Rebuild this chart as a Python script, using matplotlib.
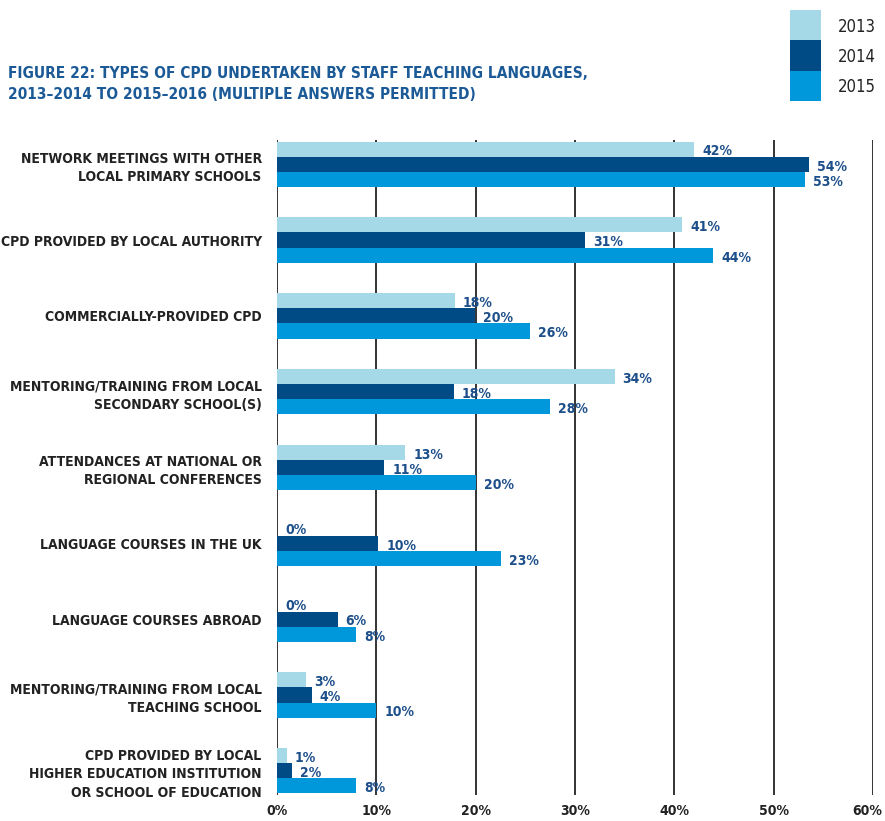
import matplotlib
matplotlib.use("Agg")
import matplotlib.pyplot as plt
from matplotlib.transforms import ScaledTranslation
import numpy as np

categories = [
    "NETWORK MEETINGS WITH OTHER\nLOCAL PRIMARY SCHOOLS",
    "CPD PROVIDED BY LOCAL AUTHORITY",
    "COMMERCIALLY-PROVIDED CPD",
    "MENTORING/TRAINING FROM LOCAL\nSECONDARY SCHOOL(S)",
    "ATTENDANCES AT NATIONAL OR\nREGIONAL CONFERENCES",
    "LANGUAGE COURSES IN THE UK",
    "LANGUAGE COURSES ABROAD",
    "MENTORING/TRAINING FROM LOCAL\nTEACHING SCHOOL",
    "CPD PROVIDED BY LOCAL\nHIGHER EDUCATION INSTITUTION\nOR SCHOOL OF EDUCATION",
]
years = ["2013", "2014", "2015"]
v2013 = [42, 40.8, 17.9, 34, 12.9, 0, 0, 2.9, 1.0]
v2014 = [53.6, 31, 19.9, 17.8, 10.8, 10.2, 6.1, 3.5, 1.5]
v2015 = [53.2, 43.9, 25.5, 27.5, 20, 22.6, 8, 10, 8]
labels2013 = ["42%", "41%", "18%", "34%", "13%", "0%", "0%", "3%", "1%"]
labels2014 = ["54%", "31%", "20%", "18%", "11%", "10%", "6%", "4%", "2%"]
labels2015 = ["53%", "44%", "26%", "28%", "20%", "23%", "8%", "10%", "8%"]
xticks = [0, 10, 20, 30, 40, 50, 60]
xticklabels = ["0%", "10%", "20%", "30%", "40%", "50%", "60%"]
title = "FIGURE 22: TYPES OF CPD UNDERTAKEN BY STAFF TEACHING LANGUAGES,\n2013\u20132014 TO 2015\u20132016 (MULTIPLE ANSWERS PERMITTED)"

colors = ["#A6D9E7", "#004A85", "#0097DB"]
label_color = "#1D4F8A"
fam = "DejaVu Sans"
st = "condensed"

fig = plt.figure(figsize=(8.85, 8.21), dpi=100)
ax = fig.add_axes([277/885, 1-795/821, (873-277)/885, (795-140)/821])

y = np.arange(len(categories))
h = 0.2
series = [v2013, v2014, v2015]
labs = [labels2013, labels2014, labels2015]
for k, (vals, ls) in enumerate(zip(series, labs)):
    ypos = y + (k - 1) * h
    ax.barh(ypos, vals, height=h, color=colors[k], zorder=3, linewidth=0)
    for yy, v, t in zip(ypos, vals, ls):
        ax.text(v + 0.8, yy + 0.03, t, ha="left", va="center", color=label_color,
                fontsize=10, fontweight="bold", family=fam, stretch=st, zorder=4)

ax.set_xlim(0, 60)
ax.set_ylim(len(categories) - 1 + 0.32, -0.32)
ax.set_xticks(xticks)
ax.set_xticklabels(xticklabels[:-1] + [""])
xtick_style = dict(fontweight="bold", fontsize=10, family=fam, stretch=st, color="#222222")
for lab in ax.get_xticklabels():
    lab.set_fontweight("bold")
    lab.set_fontsize(10)
    lab.set_family(fam)
    lab.set_stretch(st)
    lab.set_color("#222222")
# last tick label nudged left so it stays inside the figure
ax.text(xticks[-1], 0, xticklabels[-1], ha="center", va="top",
        transform=ax.get_xaxis_transform() + ScaledTranslation(-6/100, -9/100, fig.dpi_scale_trans),
        **xtick_style)
ax.set_yticks(y)
ax.set_yticklabels(categories)
for lab in ax.get_yticklabels():
    lab.set_fontweight("bold")
    lab.set_fontsize(10)
    lab.set_family(fam)
    lab.set_stretch(st)
    lab.set_color("#222222")
    lab.set_linespacing(1.4)
ax.tick_params(axis="both", length=0)
ax.tick_params(axis="y", pad=11)
ax.tick_params(axis="x", pad=6.5)
ax.xaxis.grid(True, color="#111111", linewidth=1.2, zorder=0)
ax.set_axisbelow(True)
for s in ax.spines.values():
    s.set_visible(False)

fig.text(8/885, 1-84/821, title, ha="left", va="center", color="#1B5A96",
         fontsize=11.1, fontweight="bold", family=fam, stretch=st, linespacing=1.5)

# legend as a small stacked key
lax = fig.add_axes([790/885, 1-101/821, 31/885, 91/821])
ly = np.arange(len(years))
lax.barh(ly, [1] * len(years), height=1.0, color=colors, linewidth=0)
lax.set_xlim(0, 1)
lax.set_ylim(len(years) - 0.5, -0.5)
lax.axis("off")
for yy, t in zip(ly, years):
    lax.text(1.55, yy + 0.05, t, ha="left", va="center", fontsize=12,
             family=fam, stretch=st, color="#222222", transform=lax.transData)

fig.savefig("out.png", dpi=100)
